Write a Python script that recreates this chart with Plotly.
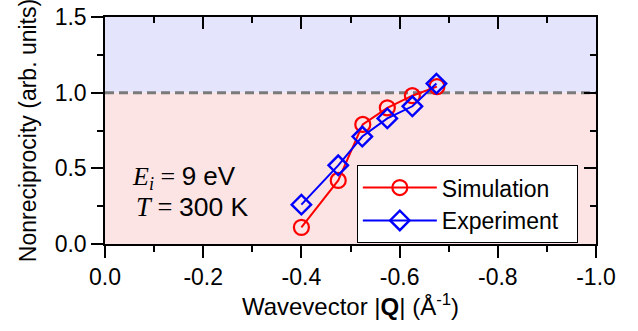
import plotly.graph_objects as go

# Data
q_sim = [-0.40, -0.475, -0.525, -0.575, -0.626, -0.676]
nr_sim = [0.11, 0.42, 0.79, 0.90, 0.98, 1.04]
q_exp = [-0.40, -0.475, -0.524, -0.575, -0.626, -0.675]
nr_exp = [0.26, 0.52, 0.71, 0.83, 0.91, 1.06]

x_tickvals = [0.0, -0.2, -0.4, -0.6, -0.8, -1.0]
x_ticktext = ["0.0", "-0.2", "-0.4", "-0.6", "-0.8", "-1.0"]
y_tickvals = [0.0, 0.5, 1.0, 1.5]
y_ticktext = ["0.0", "0.5", "1.0", "1.5"]
x_range = [0.0, -1.0]
y_range = [0.0, 1.5]
threshold = 1.0

FONT = "Arial, Liberation Sans, sans-serif"
SERIF = "Liberation Serif, Times New Roman, serif"
PAD = "\u00a0\u00a0"

fig = go.Figure()

fig.add_trace(go.Scatter(
    x=q_sim, y=nr_sim, mode="lines+markers", name="Simulation" + PAD,
    line=dict(color="#ff0000", width=2),
    marker=dict(symbol="circle-open", size=15, color="#ff0000",
                line=dict(width=2.2, color="#ff0000")),
))
fig.add_trace(go.Scatter(
    x=q_exp, y=nr_exp, mode="lines+markers", name="Experiment" + PAD,
    line=dict(color="#0000ff", width=2),
    marker=dict(symbol="diamond-open", size=15, color="#0000ff",
                line=dict(width=2.4, color="#0000ff")),
))
# dummy trace for mirrored (inward) tick axes
fig.add_trace(go.Scatter(x=[], y=[], xaxis="x2", yaxis="y2",
                         showlegend=False, hoverinfo="skip"))

# shaded regions
fig.add_shape(type="rect", xref="paper", yref="y", x0=0, x1=1,
              y0=threshold, y1=y_range[1], fillcolor="#e4e4fc",
              line=dict(width=0), layer="below")
fig.add_shape(type="rect", xref="paper", yref="y", x0=0, x1=1,
              y0=y_range[0], y1=threshold, fillcolor="#fde4e4",
              line=dict(width=0), layer="below")
fig.add_shape(type="line", xref="paper", yref="y", x0=0, x1=1,
              y0=threshold, y1=threshold,
              line=dict(color="#7a7a7a", width=3, dash="9px,5px"),
              layer="below")

axis_common = dict(showgrid=False, zeroline=False, linecolor="black",
                   linewidth=1.5, tickcolor="black", tickwidth=1.5,
                   ticklen=12, automargin=False)

fig.update_layout(
    width=638, height=331,
    margin=dict(l=105, r=42, t=17, b=87),
    paper_bgcolor="white", plot_bgcolor="white",
    font=dict(family=FONT, size=23, color="black"),
    xaxis=dict(**axis_common, range=x_range, tickvals=x_tickvals,
               ticktext=x_ticktext, ticks="outside",
               minor=dict(ticks="outside", ticklen=6, dtick=0.1,
                          tickcolor="black", tickwidth=1.5),
               title=dict(text="Wavevector |<b>Q</b>| (Å<sup>-1</sup>)",
                          font=dict(size=24), standoff=6),
               mirror=True),
    yaxis=dict(**axis_common, range=y_range, tickvals=y_tickvals,
               ticktext=y_ticktext, ticks="outside",
               minor=dict(ticks="outside", ticklen=6, dtick=0.25,
                          tickcolor="black", tickwidth=1.5),
               title=dict(text="Nonreciprocity (arb. units)",
                          font=dict(size=23), standoff=12),
               mirror=True),
    xaxis2=dict(**axis_common, range=x_range, tickvals=x_tickvals,
                overlaying="x", side="top", anchor="y", ticks="inside",
                showticklabels=False, showline=False,
                minor=dict(ticks="inside", ticklen=6, dtick=0.1,
                           tickcolor="black", tickwidth=1.5)),
    yaxis2=dict(**axis_common, range=y_range, tickvals=y_tickvals,
                overlaying="y", side="right", anchor="x", ticks="inside",
                showticklabels=False, showline=False,
                minor=dict(ticks="inside", ticklen=6, dtick=0.25,
                           tickcolor="black", tickwidth=1.5)),
    legend=dict(x=0.963, y=0.004, xanchor="right", yanchor="bottom",
                bgcolor="white", bordercolor="black", borderwidth=1,
                font=dict(size=23), tracegroupgap=0, itemwidth=74),
    showlegend=True,
)

fig.add_annotation(
    xref="paper", yref="paper", x=0.05, y=0.295, xanchor="left",
    yanchor="middle", showarrow=False, align="left",
    text=(f"<span style=\"font-family:{SERIF}\"><i>E</i><sub><i>i</i></sub> = </span>9 eV"),
    font=dict(size=26),
)
fig.add_annotation(
    xref="paper", yref="paper", x=0.06, y=0.165, xanchor="left",
    yanchor="middle", showarrow=False, align="left",
    text=(f"<span style=\"font-family:{SERIF}\"><i>T</i> = </span>300 K"),
    font=dict(size=26.5),
)

fig.write_html("out.html", config={"displayModeBar": False},
               post_script="document.body.style.margin='0';document.body.style.padding='0';")
